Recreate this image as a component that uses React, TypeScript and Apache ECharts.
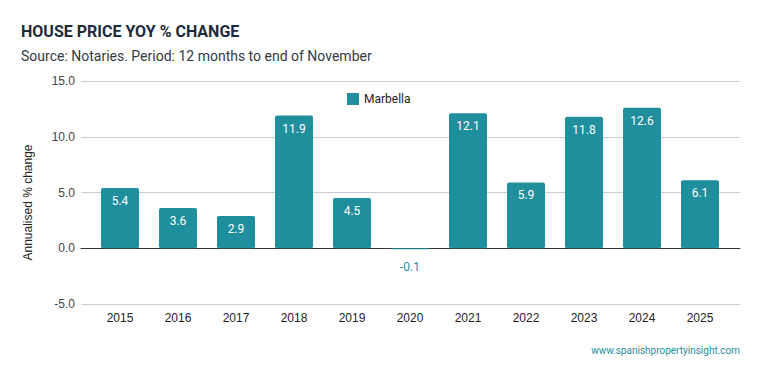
import React, { useEffect, useRef } from "react";
import * as echarts from "echarts";

const years = ["2015", "2016", "2017", "2018", "2019", "2020", "2021", "2022", "2023", "2024", "2025"];
const marbella = [5.4, 3.6, 2.9, 11.9, 4.5, -0.1, 12.1, 5.9, 11.8, 12.6, 6.1];
const yMin = -5;
const yMax = 15;
const yStep = 5;

const TEAL = "#1f8e9d";
const FONT = "Roboto, 'Liberation Sans', sans-serif";
const AXFONT = "'Liberation Sans', Arial, sans-serif";

export default function App() {
  const ref = useRef<HTMLDivElement>(null);
  useEffect(() => {
    if (!ref.current) return;
    const chart = echarts.init(ref.current, undefined, { renderer: "svg" });
    chart.setOption({
      animation: false,
      backgroundColor: "#ffffff",
      textStyle: { fontFamily: FONT },
      title: [
        {
          text: "HOUSE PRICE YOY % CHANGE",
          left: 16,
          top: 18,
          textStyle: { fontSize: 16, fontWeight: "bold", color: "#1d2a39", fontFamily: FONT },
        },
        {
          text: "Source: Notaries. Period: 12 months to end of November",
          left: 16,
          top: 44,
          textStyle: { fontSize: 14, fontWeight: "normal", color: "#333a44", fontFamily: FONT },
        },
        {
          text: "www.spanishpropertyinsight.com",
          right: 14,
          top: 340,
          textStyle: { fontSize: 10, fontWeight: "normal", color: TEAL, fontFamily: FONT },
        },
      ],
      legend: {
        data: ["Marbella"],
        left: 342,
        top: 88,
        itemWidth: 12,
        itemHeight: 12,
        itemGap: 8,
        textStyle: { fontSize: 12, color: "#222", fontFamily: FONT },
        icon: "rect",
      },
      grid: [
        { left: 81, right: 19, top: 81, bottom: 67 },
        { left: 91, right: 30, top: 81, bottom: 67 },
      ],
      xAxis: [
        {
          type: "category",
          gridIndex: 0,
          data: years,
          axisLine: { show: true, onZero: true, lineStyle: { color: "#333", width: 1 } },
          axisTick: { show: false },
          axisLabel: { show: false },
        },
        {
          type: "category",
          gridIndex: 1,
          data: years,
          axisLine: { show: false },
          axisTick: { show: false },
          axisLabel: { color: "#222", fontSize: 12, margin: 8, fontFamily: AXFONT },
          position: "bottom",
        },
      ],
      yAxis: [
        {
          type: "value",
          gridIndex: 0,
          min: yMin,
          max: yMax,
          interval: yStep,
          name: "Annualised % change",
          nameLocation: "middle",
          nameGap: 47,
          nameTextStyle: { fontSize: 12, color: "#222", fontFamily: AXFONT, padding: [0, 20, 0, 0] },
          axisLine: { show: false },
          axisTick: { show: false },
          axisLabel: {
            color: "#444",
            fontSize: 12,
            margin: 6,
            fontFamily: AXFONT,
            formatter: (v: number) => v.toFixed(1),
          },
          splitLine: { lineStyle: { color: "#cccccc", width: 1 } },
        },
        {
          type: "value",
          gridIndex: 1,
          min: yMin,
          max: yMax,
          interval: yStep,
          axisLine: { show: false },
          axisTick: { show: false },
          axisLabel: { show: false },
          splitLine: { show: false },
        },
      ],
      series: [
        {
          name: "Marbella",
          type: "bar",
          xAxisIndex: 1,
          yAxisIndex: 1,
          barWidth: 38,
          z: 5,
          itemStyle: { color: TEAL, borderRadius: 2 },
          data: marbella.map((v) => ({
            value: v,
            label:
              v < 0
                ? { position: "bottom", distance: 12, color: TEAL }
                : { position: "insideTop", distance: 7, color: "#ffffff" },
          })),
          label: {
            show: true,
            fontSize: 12,
            fontFamily: FONT,
            formatter: (p: any) => Number(p.value).toFixed(1),
          },
        },
      ],
    });
    return () => chart.dispose();
  }, []);
  return <div ref={ref} style={{ width: 759, height: 371, position: "absolute", left: 0, top: 0 }} />;
}
